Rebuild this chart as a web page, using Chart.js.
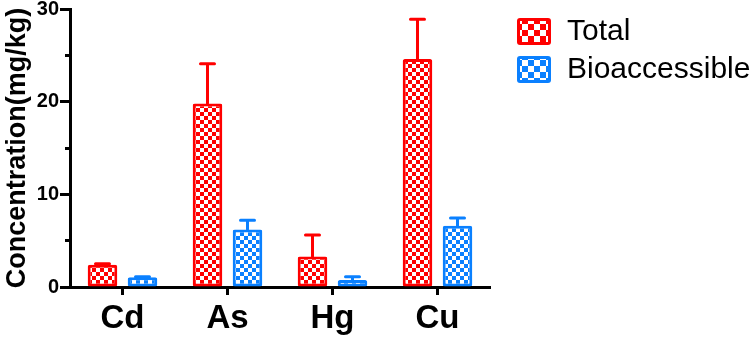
<!DOCTYPE html>
<html>
<head>
<meta charset="utf-8">
<script src="https://cdn.jsdelivr.net/npm/chart.js@4"></script>
<style>
	html, body { margin: 0; padding: 0; background: #fff; }
	#concChart { display: block; }
</style>
</head>
<body>
<canvas id="concChart" width="754" height="338"></canvas>
<script>
// data block
const metals = ['Cd', 'As', 'Hg', 'Cu'];
const totalValues = [2.4, 19.8, 3.3, 24.6];
const totalErrors = [0.1, 4.3, 2.3, 4.3];
const bioValues = [1.05, 6.2, 0.75, 6.6];
const bioErrors = [0.05, 1.0, 0.35, 0.85];
const yTicks = [0, 10, 20, 30];

const RED = '#ff0000';
const BLUE = '#0a80ff';
const FONT = "'Liberation Sans', Arial, sans-serif";

// checkerboard fill like the original figure
function checker(color, cell) {
	const c = document.createElement('canvas');
	c.width = cell * 2;
	c.height = cell * 2;
	const g = c.getContext('2d');
	g.fillStyle = '#ffffff';
	g.fillRect(0, 0, cell * 2, cell * 2);
	g.fillStyle = color;
	g.fillRect(0, 0, cell, cell);
	g.fillRect(cell, cell, cell, cell);
	return g.createPattern(c, 'repeat');
}

// setup block
const data = {
	labels: metals,
	datasets: [
		{
			label: 'Total',
			data: totalValues,
			errors: totalErrors,
			borderColor: RED,
			backgroundColor: checker(RED, 4),
			legendFill: checker(RED, 6),
		},
		{
			label: 'Bioaccessible',
			data: bioValues,
			errors: bioErrors,
			borderColor: BLUE,
			backgroundColor: checker(BLUE, 4),
			legendFill: checker(BLUE, 6),
		},
	],
};

// error bars (upper half only)
const errorBars = {
	id: 'errorBars',
	afterDatasetsDraw(chart) {
		const ctx = chart.ctx;
		const y = chart.scales.y;
		chart.data.datasets.forEach((ds, i) => {
			chart.getDatasetMeta(i).data.forEach((bar, j) => {
				const top = y.getPixelForValue(ds.data[j] + ds.errors[j]);
				ctx.save();
				ctx.strokeStyle = ds.borderColor;
				ctx.lineWidth = 3;
				ctx.lineCap = 'round';
				ctx.beginPath();
				ctx.moveTo(bar.x, bar.y);
				ctx.lineTo(bar.x, top);
				ctx.moveTo(bar.x - 7, top);
				ctx.lineTo(bar.x + 7, top);
				ctx.stroke();
				ctx.restore();
			});
		});
	},
};

// legend drawn on the right, outside the plot
const sideLegend = {
	id: 'sideLegend',
	afterDraw(chart) {
		const ctx = chart.ctx;
		chart.data.datasets.forEach((ds, i) => {
			const top = 18 + i * 38;
			ctx.save();
			ctx.fillStyle = ds.borderColor;
			ctx.beginPath();
			ctx.roundRect(517, top, 34, 27, 3);
			ctx.fill();
			ctx.fillStyle = ds.legendFill;
			ctx.fillRect(520, top + 3, 28, 21);
			ctx.fillStyle = '#000';
			ctx.font = '30px ' + FONT;
			ctx.textBaseline = 'middle';
			ctx.fillText(ds.label, 567, top + 14);
			ctx.restore();
		});
	},
};

// config block
const config = {
	type: 'bar',
	data,
	options: {
		responsive: false,
		animation: false,
		layout: { padding: { top: 9, right: 264, left: 0, bottom: 0 } },
		datasets: {
			bar: {
				categoryPercentage: 0.762,
				barPercentage: 0.74,
				borderWidth: 3,
				borderSkipped: false,
				borderRadius: 2,
			},
		},
		plugins: {
			legend: { display: false },
			tooltip: { enabled: false },
		},
		scales: {
			x: {
				grid: {
					offset: false,
					drawOnChartArea: false,
					tickLength: 8,
					tickWidth: 3,
					tickColor: '#000',
				},
				border: { color: '#000', width: 3 },
				ticks: {
					color: '#000',
					padding: 4,
					font: { family: FONT, size: 33, weight: 'bold' },
				},
				afterFit(scale) {
					scale.height = 51;
					scale.paddingLeft = 0;
					scale.paddingRight = 0;
				},
			},
			y: {
				weight: 1,
				min: 0,
				max: 30,
				afterBuildTicks(scale) {
					scale.ticks = yTicks.map((v) => ({ value: v }));
				},
				grid: {
					drawOnChartArea: false,
					tickLength: 10,
					tickWidth: 3,
					tickColor: '#000',
				},
				border: { color: '#000', width: 3 },
				ticks: {
					color: '#000',
					padding: 1,
					font: { family: FONT, size: 20, weight: 'bold' },
				},
				title: {
					display: true,
					text: 'Concentration(mg/kg)',
					color: '#000',
					padding: { top: 1, bottom: 0 },
					font: { family: FONT, size: 27, weight: 'bold' },
				},
				afterFit(scale) {
					scale.width = 70;
					scale.paddingTop = 0;
					scale.paddingBottom = 0;
				},
			},
			// minor ticks at 5, 15, 25
			yMinor: {
				type: 'linear',
				position: 'left',
				weight: 0,
				min: 0,
				max: 30,
				ticks: { display: false, stepSize: 5 },
				grid: {
					drawOnChartArea: false,
					tickLength: 5,
					tickWidth: 3,
					tickColor: (c) => (c.tick && c.tick.value % 10 !== 0 ? '#000' : 'rgba(0,0,0,0)'),
				},
				border: { display: false },
				afterFit(scale) {
					scale.width = 0;
					scale.paddingTop = 0;
					scale.paddingBottom = 0;
				},
			},
		},
	},
	plugins: [errorBars, sideLegend],
};

// render / init block
const concChart = new Chart(document.getElementById('concChart'), config);
</script>
</body>
</html>
